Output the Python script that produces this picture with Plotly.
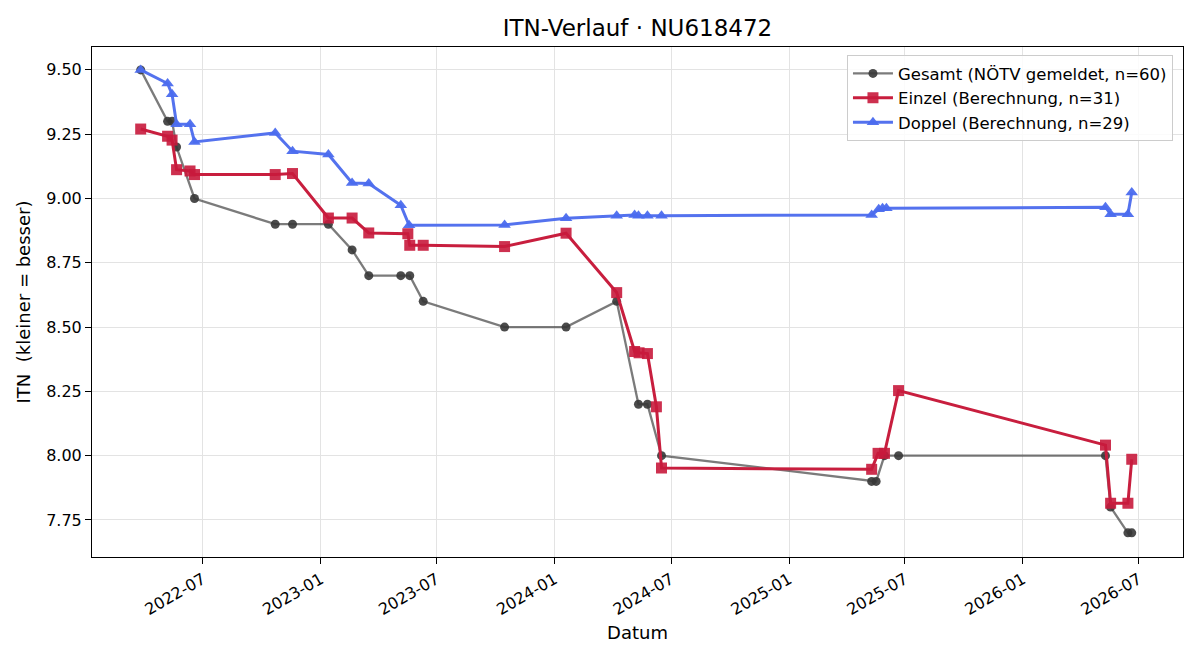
import plotly.graph_objects as go

gesamt_dates = ["2022-03-26", "2022-05-07", "2022-05-14", "2022-05-21", "2022-06-18",
                "2022-10-22", "2022-11-18", "2023-01-13", "2023-02-19", "2023-03-17",
                "2023-05-06", "2023-05-20", "2023-06-10", "2023-10-15", "2024-01-19",
                "2024-04-07", "2024-05-11", "2024-05-25", "2024-06-16", "2025-05-10",
                "2025-05-17", "2025-05-30", "2025-06-21", "2026-05-10", "2026-05-18",
                "2026-06-14", "2026-06-20"]
gesamt_vals = [9.5, 9.3, 9.3, 9.2, 9.0,
               8.9, 8.9, 8.9, 8.8, 8.7,
               8.7, 8.7, 8.6, 8.5, 8.5,
               8.6, 8.2, 8.2, 8.0, 7.9,
               7.9, 8.0, 8.0, 8.0, 7.8,
               7.7, 7.7]

einzel_dates = ["2022-03-26", "2022-05-07", "2022-05-14", "2022-05-21", "2022-06-11",
                "2022-06-18", "2022-10-22", "2022-11-18", "2023-01-13", "2023-02-19",
                "2023-03-17", "2023-05-17", "2023-05-20", "2023-06-10", "2023-10-15",
                "2024-01-19", "2024-04-07", "2024-05-05", "2024-05-12", "2024-05-25",
                "2024-06-08", "2024-06-16", "2025-05-10", "2025-05-20", "2025-05-30",
                "2025-06-21", "2026-05-10", "2026-05-18", "2026-06-14", "2026-06-20"]
einzel_vals = [9.270, 9.242, 9.227, 9.112, 9.107,
               9.093, 9.093, 9.097, 8.924, 8.924,
               8.866, 8.863, 8.818, 8.818, 8.813,
               8.865, 8.634, 8.405, 8.400, 8.397,
               8.190, 7.952, 7.947, 8.009, 8.009,
               8.253, 8.041, 7.815, 7.815, 7.986]

doppel_dates = ["2022-03-26", "2022-05-07", "2022-05-14", "2022-05-21", "2022-06-11",
                "2022-06-18", "2022-10-22", "2022-11-18", "2023-01-13", "2023-02-19",
                "2023-03-17", "2023-05-06", "2023-05-19", "2023-10-15", "2024-01-19",
                "2024-04-07", "2024-05-05", "2024-05-11", "2024-05-25", "2024-06-16",
                "2025-05-10", "2025-05-21", "2025-05-27", "2025-06-02", "2026-05-10",
                "2026-05-18", "2026-06-14", "2026-06-20"]
doppel_vals = [9.500, 9.447, 9.405, 9.289, 9.289,
               9.220, 9.255, 9.184, 9.171, 9.060,
               9.058, 8.974, 8.896, 8.897, 8.923,
               8.933, 8.936, 8.933, 8.933, 8.933,
               8.936, 8.958, 8.962, 8.962, 8.966,
               8.939, 8.939, 9.023]

y_ticks = [7.75, 8.00, 8.25, 8.50, 8.75, 9.00, 9.25, 9.50]
x_ticks = ["2022-07-01", "2023-01-01", "2023-07-01", "2024-01-01", "2024-07-01",
           "2025-01-01", "2025-07-01", "2026-01-01", "2026-07-01"]
x_ticklabels = ["2022-07", "2023-01", "2023-07", "2024-01", "2024-07",
                "2025-01", "2025-07", "2026-01", "2026-07"]

FONT = "DejaVu Sans"

fig = go.Figure()
fig.add_trace(go.Scatter(
    x=gesamt_dates, y=gesamt_vals, mode="lines+markers",
    name="Gesamt (NÖTV gemeldet, n=60)",
    line=dict(color="rgba(60,60,60,0.68)", width=2.3),
    marker=dict(symbol="circle", size=9, color="rgba(55,55,55,0.9)",
                line=dict(width=0)),
))
fig.add_trace(go.Scatter(
    x=einzel_dates, y=einzel_vals, mode="lines+markers",
    name="Einzel (Berechnung, n=31)",
    line=dict(color="#C81E3E", width=3),
    marker=dict(symbol="square", size=11, color="rgba(200,25,60,0.9)",
                line=dict(width=0)),
))
fig.add_trace(go.Scatter(
    x=doppel_dates, y=doppel_vals, mode="lines+markers",
    name="Doppel (Berechnung, n=29)",
    line=dict(color="#5472EE", width=3),
    marker=dict(symbol="triangle-up", size=11, color="rgba(75,108,238,0.95)",
                line=dict(width=0)),
))

fig.update_layout(
    width=1200, height=660,
    margin=dict(l=92, r=17, t=47, b=103),
    paper_bgcolor="white", plot_bgcolor="white",
    font=dict(family=FONT, size=16, color="black"),
    title=dict(text="ITN-Verlauf · NU618472", xref="paper", x=0.5, xanchor="center",
               y=0.957, yanchor="middle", font=dict(family=FONT, size=23)),
    legend=dict(x=0.9908, y=0.984, xanchor="right", yanchor="top",
                bgcolor="rgba(255,255,255,0.85)", bordercolor="#cccccc",
                borderwidth=1, font=dict(family=FONT, size=16.5),
                tracegroupgap=3, itemwidth=40),
    showlegend=True,
)
fig.update_xaxes(
    range=["2022-01-09", "2026-09-08"],
    tickmode="array", tickvals=x_ticks, ticktext=x_ticklabels,
    tickangle=-30, ticks="outside", ticklen=6, tickcolor="black",
    showline=True, linecolor="black", linewidth=1, mirror=True,
    showgrid=True, gridcolor="#e3e3e3", gridwidth=1,
    zeroline=False,
    tickfont=dict(family=FONT, size=16),
    title=dict(text="Datum", font=dict(family=FONT, size=18), standoff=8),
)
fig.update_yaxes(
    range=[7.606, 9.589],
    tickmode="array", tickvals=y_ticks, ticktext=[f"{v:.2f}" for v in y_ticks],
    ticks="outside", ticklen=6, tickcolor="black",
    showline=True, linecolor="black", linewidth=1, mirror=True,
    showgrid=True, gridcolor="#e3e3e3", gridwidth=1,
    zeroline=False,
    tickfont=dict(family=FONT, size=16),
    title=dict(text="ITN  (kleiner = besser)", font=dict(family=FONT, size=18), standoff=10),
)

fig.write_html("out.html")
